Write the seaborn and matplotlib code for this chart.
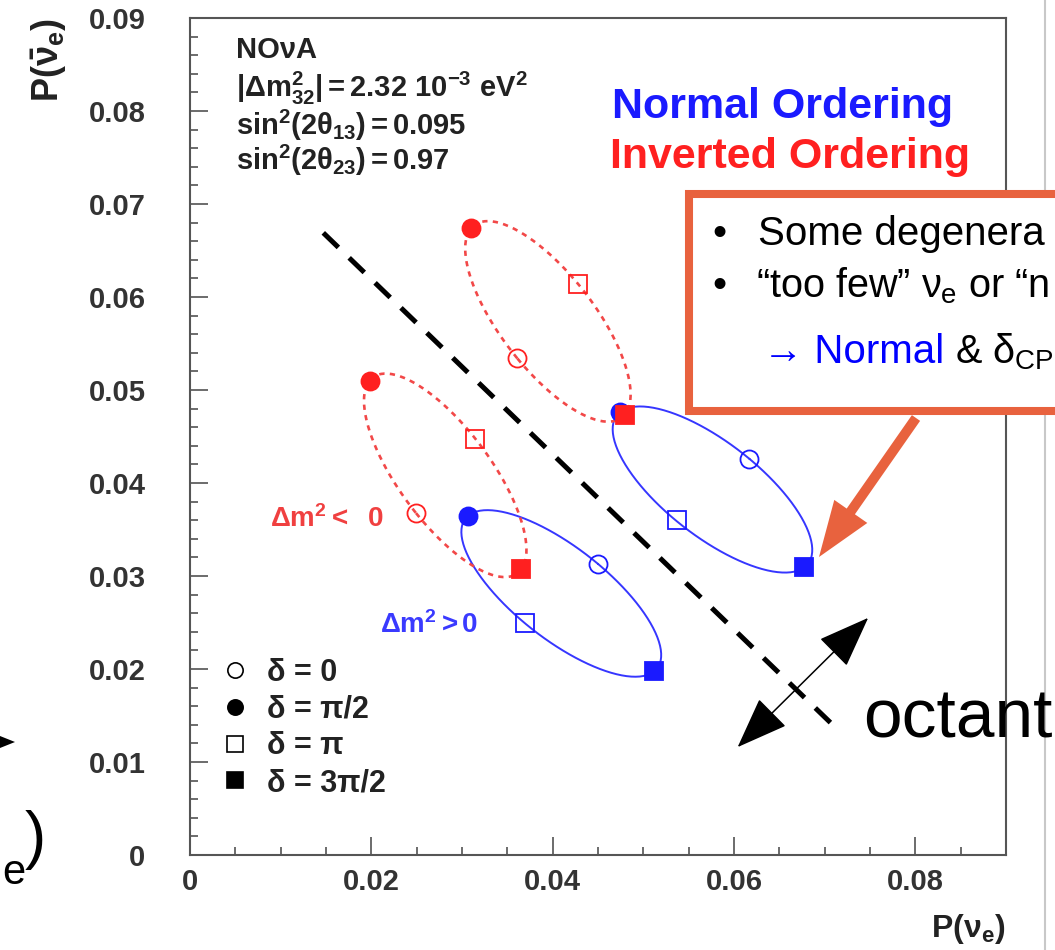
import numpy as np
import matplotlib
matplotlib.use('Agg')
import matplotlib.pyplot as plt
import seaborn as sns
from matplotlib.lines import Line2D
from matplotlib.patches import Rectangle, Polygon
from matplotlib.ticker import MultipleLocator, FuncFormatter

# delta_CP values of the four marked points on each ellipse
delta_values = [0, np.pi / 2, np.pi, 3 * np.pi / 2]
delta_labels = ['δ = 0', 'δ = π/2', 'δ = π', 'δ = 3π/2']

# normal ordering (dm2 > 0), lower and upper octant
no_low_p = [0.0450, 0.0307, 0.0369, 0.0512]
no_low_pbar = [0.0313, 0.0365, 0.0249, 0.0198]
no_high_p = [0.0617, 0.0474, 0.0537, 0.0677]
no_high_pbar = [0.0426, 0.0476, 0.0360, 0.0310]

# inverted ordering (dm2 < 0), lower and upper octant
io_low_p = [0.0249, 0.0198, 0.0314, 0.0365]
io_low_pbar = [0.0368, 0.0510, 0.0447, 0.0308]
io_high_p = [0.0361, 0.0310, 0.0428, 0.0480]
io_high_pbar = [0.0534, 0.0674, 0.0614, 0.0473]

# octant separating line and the double arrow
octant_p = [0.0147, 0.0711]
octant_pbar = [0.0669, 0.0138]
octant_arrow_p = [0.0604, 0.0748]
octant_arrow_pbar = [0.0116, 0.0255]

BLUE = '#1a1aff'
RED = '#ff2020'
ORANGE = '#e8623e'
W, H = 1055, 950


def fx(px):
    return px / W


def fy(py):
    return 1 - py / H


def ellipse(p, pbar, n=200):
    # P = c + a cos(d) + b sin(d), fixed by the d=0 and d=pi/2 points
    d = np.linspace(0, 2 * np.pi, n)
    cx, cy = np.mean(p), np.mean(pbar)
    x = cx + (p[0] - cx) * np.cos(d) + (p[1] - cx) * np.sin(d)
    y = cy + (pbar[0] - cy) * np.cos(d) + (pbar[1] - cy) * np.sin(d)
    return x, y


sns.set_theme(style='white')
plt.rcParams['font.family'] = ['Liberation Sans', 'DejaVu Sans']
plt.rcParams['mathtext.fontset'] = 'custom'
plt.rcParams['mathtext.rm'] = 'Liberation Sans'
plt.rcParams['mathtext.it'] = 'Liberation Sans'
plt.rcParams['mathtext.bf'] = 'Liberation Sans:bold'
plt.rcParams['mathtext.sf'] = 'Liberation Sans'

fig = plt.figure(figsize=(W / 100, H / 100), dpi=100)
ax = fig.add_axes([fx(190), 95 / H, 816 / W, 837 / H])

marker_style = [('o', False), ('o', True), ('s', False), ('s', True)]

groups = [
    (no_low_p, no_low_pbar, BLUE, '-'),
    (no_high_p, no_high_pbar, BLUE, '-'),
    (io_low_p, io_low_pbar, RED, (0, (2, 2))),
    (io_high_p, io_high_pbar, RED, (0, (2, 2))),
]
for p, pbar, col, ls in groups:
    ex, ey = ellipse(p, pbar)
    if ls == '-':
        sns.lineplot(x=ex, y=ey, sort=False, estimator=None, ax=ax,
                     color='#3636ff', lw=1.4)
    else:
        sns.lineplot(x=ex, y=ey, sort=False, estimator=None, ax=ax,
                     color='#f24848', lw=1.9, linestyle=ls)
    for i, (m, filled) in enumerate(marker_style):
        ax.plot(p[i], pbar[i], marker=m, ls='none',
                ms=13 if m == 'o' else 13.5,
                mfc=col if filled else 'none', mec=col,
                mew=1.3, zorder=4)

# octant line and arrow
ax.plot(octant_p, octant_pbar, color='black', lw=3.6,
        linestyle=(0, (4.2, 3.0)), dash_capstyle='butt')
ax.annotate('', xy=(octant_arrow_p[1], octant_arrow_pbar[1]),
            xytext=(octant_arrow_p[0], octant_arrow_pbar[0]),
            arrowprops=dict(arrowstyle='<|-|>,head_length=3.3,head_width=1.25',
                            mutation_scale=10, lw=1.1, color='black',
                            shrinkA=0, shrinkB=0))

ax.set_xlim(0, 0.09)
ax.set_ylim(0, 0.09)
ax.xaxis.set_major_locator(MultipleLocator(0.02))
ax.xaxis.set_minor_locator(MultipleLocator(0.005))
ax.yaxis.set_major_locator(MultipleLocator(0.01))
ax.yaxis.set_minor_locator(MultipleLocator(0.002))
fmt = FuncFormatter(lambda v, _: '0' if abs(v) < 1e-9 else f'{v:.2f}')
ax.xaxis.set_major_formatter(fmt)
ax.yaxis.set_major_formatter(fmt)
ax.tick_params(which='both', direction='in', colors='#444444',
               labelcolor='#333333', width=1.1, top=False, right=False,
               bottom=True, left=True)
ax.tick_params(which='major', length=13, labelsize=21)
ax.tick_params(which='minor', length=6)
ax.tick_params(axis='x', pad=9)
ax.tick_params(axis='y', pad=32)
for lab in ax.get_xticklabels() + ax.get_yticklabels():
    lab.set_fontweight('bold')
for sp in ax.spines.values():
    sp.set_color('#555555')
    sp.set_linewidth(1.5)

ax.set_xlabel(r'$\mathbf{P(\nu_e)}$', loc='right', fontsize=23,
              color='#222222', labelpad=12)
ax.set_ylabel(r'$\mathbf{P(\bar{\nu}_e)}$', loc='top', fontsize=26,
              color='#222222', labelpad=14)

# legend for delta markers
handles = [Line2D([], [], ls='none', marker=m, ms=11 if m == 'o' else 12,
                  mfc='black' if f else 'none', mec='black', mew=1.2)
           for m, f in marker_style]
leg = ax.legend(handles, delta_labels, loc='upper left', frameon=False,
                bbox_to_anchor=(fx(220), fy(658)),
                bbox_transform=fig.transFigure, fontsize=22,
                handlelength=1.0, handletextpad=0.55, labelspacing=0.22,
                borderpad=0, borderaxespad=0)
for t in leg.get_texts():
    t.set_fontweight('bold')
    t.set_color('#222222')

# parameter block
info = ['NOνA',
        r'$\mathbf{|\Delta m_{32}^{2}| = 2.32\ 10^{-3}\ eV^{2}}$',
        r'$\mathbf{sin^{2}(2\theta_{13}) = 0.095}$',
        r'$\mathbf{sin^{2}(2\theta_{23}) = 0.97}$']
for txt, base in zip(info, [58, 97, 135, 170]):
    fig.text(fx(236), fy(base), txt, fontsize=21, fontweight='bold',
             color='#222222', va='baseline')

fig.text(fx(612), fy(118), 'Normal Ordering', fontsize=31,
         fontweight='bold', color=BLUE, va='baseline')
fig.text(fx(610), fy(168), 'Inverted Ordering', fontsize=31,
         fontweight='bold', color=RED, va='baseline')

ax.text(0.0088, 0.0353, r'$\mathbf{\Delta m^{2} <\ \ 0}$', fontsize=20,
        color='#f04040', va='baseline')
ax.text(0.0210, 0.0239, r'$\mathbf{\Delta m^{2} > 0}$', fontsize=20,
        color='#3a3aff', va='baseline')

fig.text(fx(863), fy(738), 'octant', fontsize=50, color='black',
         va='baseline')

# slide edge line
fig.add_artist(Line2D([fx(1045)] * 2, [0, 1], transform=fig.transFigure,
                      color='#c8c8c8', lw=1.5))

# callout box (runs past the right edge of the slide, as in the screenshot)
fig.add_artist(Rectangle((fx(689), fy(411)), fx(1100) - fx(689),
                         (411 - 194) / H, transform=fig.transFigure,
                         facecolor='white', edgecolor=ORANGE, lw=5.8,
                         zorder=5))
fig.text(fx(712), fy(245), '•', fontsize=29, color='black', va='baseline',
         zorder=6)
fig.text(fx(758), fy(245), 'Some degenera', fontsize=29, color='black',
         va='baseline', zorder=6)
fig.text(fx(712), fy(297), '•', fontsize=29, color='black', va='baseline',
         zorder=6)
fig.text(fx(756), fy(297), r'“too few” $\nu_{e}$ or “n', fontsize=28.5,
         color='black', va='baseline', zorder=6)
fig.text(fx(763), fy(363), '→ Normal', fontsize=29, color='#0000ff',
         va='baseline', zorder=6)
fig.text(fx(955), fy(363), r'& $\delta_{CP}$', fontsize=28.5, color='black',
         va='baseline', zorder=6)

ax.annotate('', xy=(819, H - 557), xytext=(916, H - 418),
            xycoords='figure pixels', textcoords='figure pixels',
            arrowprops=dict(arrowstyle='simple,head_length=4.0,head_width=2.9,tail_width=0.72',
                            mutation_scale=10, fc=ORANGE, ec='none',
                            shrinkA=0, shrinkB=0))

# pieces of the neighbouring slide text at the left edge
fig.add_artist(Polygon([(fx(0), fy(736)), (fx(15), fy(742)), (fx(0), fy(748))],
                       closed=True, transform=fig.transFigure,
                       facecolor='black', edgecolor='none'))
fig.text(fx(25), fy(857), ')', fontsize=46, color='black', va='baseline')
fig.text(fx(2), fy(884), 'e', fontsize=30, color='black', va='baseline')

fig.savefig('out.png', dpi=100, facecolor='white')
